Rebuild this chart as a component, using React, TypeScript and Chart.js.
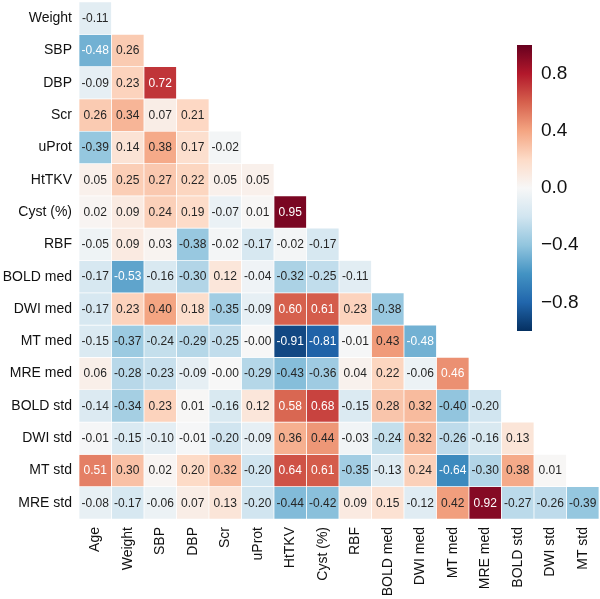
import React, { useEffect, useRef } from "react";
import { Chart, registerables } from "chart.js";

Chart.register(...registerables);

const columnLabels = ["Age", "Weight", "SBP", "DBP", "Scr", "uProt", "HtTKV", "Cyst (%)", "RBF", "BOLD med", "DWI med", "MT med", "MRE med", "BOLD std", "DWI std", "MT std"];
const rowLabels = ["Weight", "SBP", "DBP", "Scr", "uProt", "HtTKV", "Cyst (%)", "RBF", "BOLD med", "DWI med", "MT med", "MRE med", "BOLD std", "DWI std", "MT std", "MRE std"];

const rowWeight = [-0.11];
const rowSBP = [-0.48, 0.26];
const rowDBP = [-0.09, 0.23, 0.72];
const rowScr = [0.26, 0.34, 0.07, 0.21];
const rowUProt = [-0.39, 0.14, 0.38, 0.17, -0.02];
const rowHtTKV = [0.05, 0.25, 0.27, 0.22, 0.05, 0.05];
const rowCyst = [0.02, 0.09, 0.24, 0.19, -0.07, 0.01, 0.95];
const rowRBF = [-0.05, 0.09, 0.03, -0.38, -0.02, -0.17, -0.02, -0.17];
const rowBoldMed = [-0.17, -0.53, -0.16, -0.30, 0.12, -0.04, -0.32, -0.25, -0.11];
const rowDwiMed = [-0.17, 0.23, 0.40, 0.18, -0.35, -0.09, 0.60, 0.61, 0.23, -0.38];
const rowMtMed = [-0.15, -0.37, -0.24, -0.29, -0.25, -0.0, -0.91, -0.81, -0.01, 0.43, -0.48];
const rowMreMed = [0.06, -0.28, -0.23, -0.09, -0.0, -0.29, -0.43, -0.36, 0.04, 0.22, -0.06, 0.46];
const rowBoldStd = [-0.14, -0.34, 0.23, 0.01, -0.16, 0.12, 0.58, 0.68, -0.15, 0.28, 0.32, -0.40, -0.20];
const rowDwiStd = [-0.01, -0.15, -0.10, -0.01, -0.20, -0.09, 0.36, 0.44, -0.03, -0.24, 0.32, -0.26, -0.16, 0.13];
const rowMtStd = [0.51, 0.30, 0.02, 0.20, 0.32, -0.20, 0.64, 0.61, -0.35, -0.13, 0.24, -0.64, -0.30, 0.38, 0.01];
const rowMreStd = [-0.08, -0.17, -0.06, 0.07, 0.13, -0.20, -0.44, -0.42, 0.09, 0.15, -0.12, 0.42, 0.92, -0.27, -0.26, -0.39];

const rowValues = [rowWeight, rowSBP, rowDBP, rowScr, rowUProt, rowHtTKV, rowCyst, rowRBF, rowBoldMed, rowDwiMed, rowMtMed, rowMreMed, rowBoldStd, rowDwiStd, rowMtStd, rowMreStd];

const colorbarTicks = [-0.8, -0.4, 0, 0.4, 0.8];

// RdBu_r colormap stops, from -1 to +1
const cmapStops = ["#053061", "#2166ac", "#4393c3", "#92c5de", "#d1e5f0", "#f7f7f7", "#fddbc7", "#f4a582", "#d6604d", "#b2182b", "#67001f"];

const hexToRgb = (h: string) => [parseInt(h.slice(1, 3), 16), parseInt(h.slice(3, 5), 16), parseInt(h.slice(5, 7), 16)];

const cmapRgb = (v: number) => {
  let t = (v + 1) / 2;
  t = Math.max(0, Math.min(1, t));
  const pos = t * (cmapStops.length - 1);
  const i = Math.min(Math.floor(pos), cmapStops.length - 2);
  const f = pos - i;
  const a = hexToRgb(cmapStops[i]);
  const b = hexToRgb(cmapStops[i + 1]);
  return [0, 1, 2].map((k) => Math.round(a[k] + (b[k] - a[k]) * f));
};

const rgbStr = (c: number[]) => `rgb(${c[0]},${c[1]},${c[2]})`;

const luminance = (c: number[]) => {
  const lin = c.map((x) => {
    const s = x / 255;
    return s <= 0.03928 ? s / 12.92 : Math.pow((s + 0.055) / 1.055, 2.4);
  });
  return 0.2126 * lin[0] + 0.7152 * lin[1] + 0.0722 * lin[2];
};

const fmt = (v: number) => {
  const s = Math.abs(v).toFixed(2);
  return v < 0 || Object.is(v, -0) ? "-" + s : s;
};

const FONT = "'Liberation Sans', Arial, sans-serif";

const annotationPlugin = {
  id: "cellText",
  afterDatasetsDraw(chart: any) {
    const ctx = chart.ctx;
    ctx.save();
    ctx.font = `12px ${FONT}`;
    ctx.textAlign = "center";
    ctx.textBaseline = "middle";
    chart.data.datasets.forEach((ds: any, di: number) => {
      const meta = chart.getDatasetMeta(di);
      meta.data.forEach((el: any, ci: number) => {
        const v = ds.values[ci];
        if (v === null || v === undefined) return;
        const col = cmapRgb(v);
        ctx.fillStyle = luminance(col) > 0.408 ? "#262626" : "#ffffff";
        ctx.fillText(fmt(v), el.x, (el.y + el.base) / 2 + 0.5);
      });
    });
    ctx.restore();
  },
};

const zeroPad = (s: any) => {
  s.paddingTop = 0;
  s.paddingBottom = 0;
  s.paddingLeft = 0;
  s.paddingRight = 0;
};

export default function App() {
  const mainRef = useRef<HTMLCanvasElement>(null);
  const cbRef = useRef<HTMLCanvasElement>(null);

  useEffect(() => {
    const datasets = rowValues.map((vals, r) => {
      const values = columnLabels.map((_, c) => (c < vals.length ? vals[c] : null));
      return {
        label: rowLabels[r],
        values,
        data: values.map((v) => (v === null ? null : [r, r + 1])),
        backgroundColor: values.map((v) => (v === null ? "rgba(0,0,0,0)" : rgbStr(cmapRgb(v)))),
        borderColor: "#ffffff",
        borderWidth: 0.7,
        borderSkipped: false,
        grouped: false,
        barPercentage: 1,
        categoryPercentage: 1,
      };
    });

    const main = new Chart(mainRef.current!, {
      type: "bar",
      data: { labels: columnLabels, datasets: datasets as any },
      options: {
        responsive: false,
        animation: false,
        layout: { padding: { top: 2, right: 1, left: 0, bottom: 0 } },
        plugins: { legend: { display: false }, tooltip: { enabled: false } },
        scales: {
          x: {
            type: "category",
            grid: { display: false, drawTicks: false },
            border: { display: false },
            ticks: {
              minRotation: 90,
              maxRotation: 90,
              autoSkip: false,
              padding: 8,
              color: "#111",
              font: { family: FONT, size: 14 },
            },
            afterFit: (s: any) => {
              s.height = 80;
              zeroPad(s);
            },
          },
          y: {
            type: "linear",
            min: 0,
            max: rowLabels.length,
            reverse: true,
            grid: { display: false, drawTicks: false },
            border: { display: false },
            afterBuildTicks: (s: any) => {
              s.ticks = rowLabels.map((_, i) => ({ value: i + 0.5 }));
            },
            ticks: {
              autoSkip: false,
              padding: 7,
              color: "#111",
              font: { family: FONT, size: 14 },
              callback: (_v: any, i: number) => rowLabels[i],
            },
            afterFit: (s: any) => {
              s.width = 79;
              zeroPad(s);
            },
          },
        },
      },
      plugins: [annotationPlugin],
    });

    const cb = new Chart(cbRef.current!, {
      type: "bar",
      data: {
        labels: ["colorbar"],
        datasets: [
          {
            data: [[-1, 1]] as any,
            backgroundColor: (ctx: any) => {
              const area = ctx.chart.chartArea;
              if (!area) return cmapStops[5];
              const g = ctx.chart.ctx.createLinearGradient(0, area.bottom, 0, area.top);
              cmapStops.forEach((c, i) => g.addColorStop(i / (cmapStops.length - 1), c));
              return g;
            },
            borderWidth: 0,
            barPercentage: 1,
            categoryPercentage: 1,
          },
        ],
      },
      options: {
        responsive: false,
        animation: false,
        layout: { padding: { top: 10, left: 12, right: 0, bottom: 14 } },
        plugins: { legend: { display: false }, tooltip: { enabled: false } },
        scales: {
          x: { display: false },
          y: {
            position: "right",
            min: -1,
            max: 1,
            grid: { display: false, drawTicks: false },
            border: { display: false },
            afterBuildTicks: (s: any) => {
              s.ticks = colorbarTicks.map((v) => ({ value: v }));
            },
            ticks: {
              padding: 9,
              color: "#111",
              font: { family: FONT, size: 19 },
              callback: (v: any) => Number(v).toFixed(1).replace("-", "\u2212"),
            },
            afterFit: (s: any) => {
              s.width = 68;
              zeroPad(s);
            },
          },
        },
      },
    });

    return () => {
      main.destroy();
      cb.destroy();
    };
  }, []);

  return (
    <div style={{ position: "absolute", left: 0, top: 0, width: 600, height: 599, background: "#fff" }}>
      <canvas ref={mainRef} width={600} height={599} style={{ position: "absolute", left: 0, top: 0 }} />
      <canvas ref={cbRef} width={95} height={310} style={{ position: "absolute", left: 505, top: 35 }} />
    </div>
  );
}
